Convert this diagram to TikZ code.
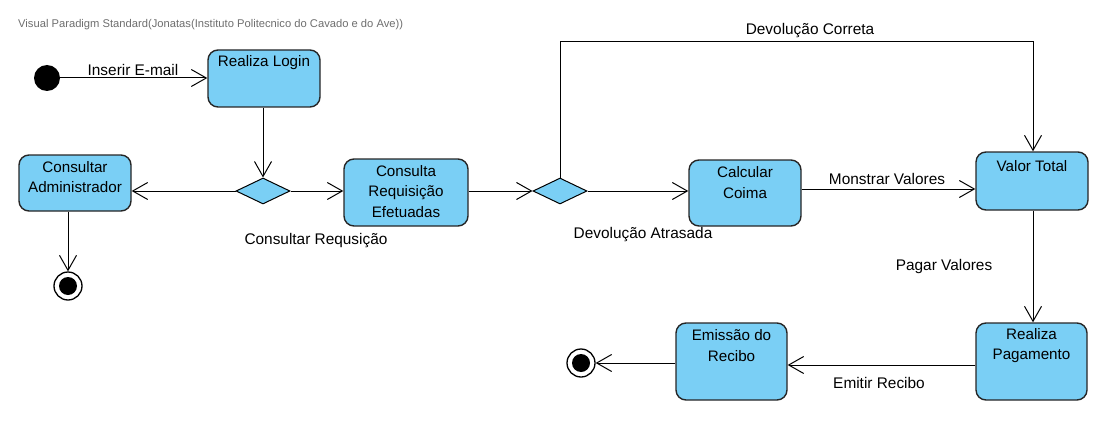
\documentclass[tikz,border=0pt]{standalone}
\usepackage{fontspec}
\setmainfont{Liberation Sans}
\usetikzlibrary{arrows.meta,shapes.geometric}
\definecolor{actfill}{RGB}{122,207,245}
\definecolor{hdr}{RGB}{110,110,110}
\begin{document}
\begin{tikzpicture}[x=1pt,y=-1pt,
  act/.style={draw=black!85,line width=1.4pt,fill=actfill,rounded corners=10pt,inner sep=0pt},
  txt/.style={font=\fontsize{15.2}{20.5}\selectfont,align=center,inner sep=0pt},
  lbl/.style={font=\fontsize{15.4}{20}\selectfont,inner sep=0pt},
  dec/.style={draw=black,line width=1pt,fill=actfill,diamond,aspect=2.1,minimum width=54pt,minimum height=26pt,inner sep=0pt},
  flow/.style={draw=black,line width=1pt,-{Straight Barb[length=15pt,width=17pt,line width=1pt]}},
  startn/.style={circle,fill=black,minimum size=26pt,inner sep=0pt},
  endn/.style={circle,draw=black,line width=1.3pt,fill=white,minimum size=28pt,inner sep=0pt,
     path picture={\fill[black] (path picture bounding box.center) circle (9pt);}}]
\useasboundingbox (0,0) rectangle (1110,433);
\node[anchor=west,text=hdr,font=\fontsize{11.2}{13}\selectfont,inner sep=0pt] (hdr) at (18,25) {Visual Paradigm Standard(Jonatas(Instituto Politecnico do Cavado e do Ave))};

% nodes
\node[startn] (init) at (47,78) {};
\node[act,minimum width=112pt,minimum height=57pt] (login) at (264,78.5) {};
\node[txt] (logint) at (264,63) {Realiza Login};
\node[dec] (d1) at (263,191) {};
\node[act,minimum width=112pt,minimum height=56pt] (admin) at (75,183) {};
\node[txt] (admint) at (75,177) {Consultar\\Administrador};
\node[endn] (end1) at (68,286) {};
\node[act,minimum width=124pt,minimum height=67pt] (cre) at (406,192.5) {};
\node[txt] (cret) at (406,191.5) {Consulta\\Requisição\\Efetuadas};
\node[dec] (d2) at (560,191) {};
\node[act,minimum width=112pt,minimum height=66pt] (coima) at (745,193) {};
\node[txt] (coimat) at (745,182.5) {Calcular\\Coima};
\node[act,minimum width=112pt,minimum height=58pt] (total) at (1032,181) {};
\node[txt] (totalt) at (1032,166) {Valor Total};
\node[act,minimum width=111pt,minimum height=77pt] (pag) at (1031.5,361.5) {};
\node[txt] (pagt) at (1031.5,345.5) {Realiza\\Pagamento};
\node[act,minimum width=111pt,minimum height=77pt] (rec) at (731.5,361.5) {};
\node[txt] (rect) at (731.5,345.5) {Emissão do\\Recibo};
\node[endn] (end2) at (581,363) {};

% connectors
\draw[flow] (init.east) -- (init.east -| login.west);
\node[lbl] (l1) at (133,70) {Inserir E-mail};
\draw[flow] (login.south -| d1.north) -- (d1.north);
\draw[flow] (d1.west) -- (d1.west -| admin.east);
\draw[flow] (admin.south -| end1.north) -- (end1.north);
\draw[flow] (d1.east) -- (d1.east -| cre.west);
\node[lbl] (l2) at (316,241) {Consultar Requsição};
\draw[flow] (d1.east -| cre.east) -- (d2.west);
\coordinate (c1) at (560,42);
\coordinate (c2) at (1033,42);
\draw[flow] (d2.north) -- (c1) -- (c2) -- (c2 |- total.north);
\node[lbl] (l3) at (810,31) {Devolução Correta};
\draw[flow] (d2.east) -- (d2.east -| coima.west);
\node[lbl] (l4) at (643,235) {Devolução Atrasada};
\coordinate (c3) at (801,189);
\draw[flow] (c3 -| coima.east) -- (c3 -| total.west);
\node[lbl] (l5) at (887,179) {Monstrar Valores};
\draw[flow] (c2 |- total.south) -- (c2 |- pag.north);
\node[lbl] (l6) at (944,267) {Pagar Valores};
\coordinate (c4) at (900,365);
\draw[flow] (c4 -| pag.west) -- (c4 -| rec.east);
\node[lbl] (l7) at (879,383) {Emitir Recibo};
\draw[flow] (rec.west |- end2.east) -- (end2.east);
\end{tikzpicture}
\end{document}
